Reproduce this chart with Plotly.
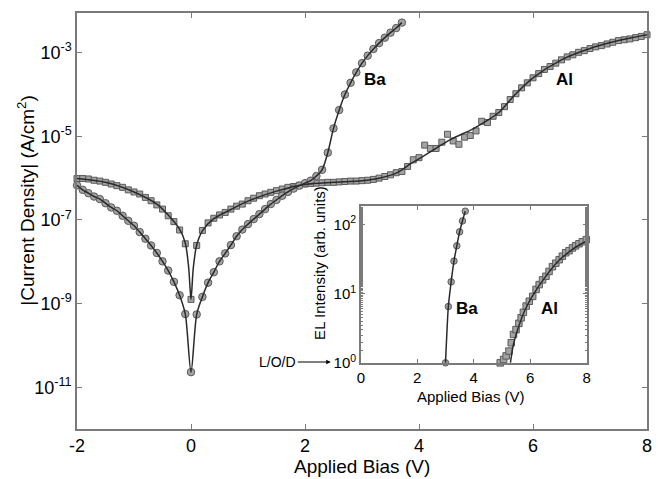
import plotly.graph_objects as go

# ---------------- main panel data: |J| (A/cm^2), stored as log10 exponents
ba_x = [-2.0, -1.9, -1.8, -1.7, -1.6, -1.5, -1.4, -1.3, -1.2, -1.1, -1.0, -0.9, -0.8, -0.7, -0.6,
        -0.5, -0.4, -0.3, -0.2, -0.1, 0.0,
        0.1, 0.2, 0.3, 0.4, 0.5, 0.6, 0.7, 0.8, 0.9, 1.0, 1.1, 1.2, 1.3, 1.4, 1.5, 1.6, 1.7, 1.8,
        1.9, 2.0, 2.1, 2.2, 2.3, 2.4, 2.5, 2.6, 2.7, 2.8, 2.9, 3.0, 3.1, 3.2, 3.3, 3.4, 3.5, 3.6, 3.7]
ba_log_j = [-6.17, -6.28, -6.36, -6.44, -6.50, -6.60, -6.70, -6.78, -6.90, -7.02, -7.14, -7.29,
            -7.45, -7.61, -7.79, -7.99, -8.21, -8.48, -8.80, -9.25, -10.64,
            -9.26, -8.84, -8.50, -8.25, -7.99, -7.80, -7.60, -7.39, -7.23, -7.10, -6.98, -6.86,
            -6.74, -6.62, -6.52, -6.42, -6.33, -6.25, -6.18, -6.12, -6.06, -5.95, -5.80, -5.39,
            -4.81, -4.37, -4.00, -3.72, -3.47, -3.25, -3.07, -2.91, -2.77, -2.64, -2.52, -2.41, -2.28]

al_x = [round(-2.0 + 0.1 * i, 1) for i in range(101)]
al_log_j = [-6.01, -6.01, -6.02, -6.05, -6.07, -6.10, -6.14, -6.18, -6.22, -6.28, -6.33, -6.38,
            -6.46, -6.54, -6.64, -6.74, -6.90, -7.04, -7.24, -7.57, -8.90,
            -7.61, -7.25, -7.07, -6.96, -6.88, -6.82, -6.74, -6.67, -6.62, -6.54, -6.48, -6.42,
            -6.38, -6.34, -6.30, -6.26, -6.22, -6.20, -6.17, -6.14,
            -6.13, -6.12, -6.11, -6.10, -6.10, -6.09, -6.08, -6.07, -6.07, -6.06, -6.05, -6.03,
            -6.00, -5.96, -5.92, -5.87,
            -5.84, -5.72, -5.56, -5.51, -5.21, -5.29, -5.29, -5.14, -4.95, -5.11, -5.19, -5.02,
            -4.98, -4.87, -4.64, -4.67, -4.52,
            -4.43, -4.29, -4.12, -3.98, -3.84, -3.72, -3.60, -3.50, -3.40, -3.33, -3.25, -3.17,
            -3.10, -3.05, -2.99, -2.95, -2.90, -2.86, -2.83, -2.79, -2.75, -2.71, -2.69, -2.67,
            -2.64, -2.61, -2.57]

# fitted (smooth) curve for Al
al_fit_x = [-2.0, -1.5, -1.0, -0.6, -0.4, -0.2, -0.1, -0.04, 0.0, 0.04, 0.1, 0.2, 0.4, 0.7, 1.0,
            1.5, 2.0, 2.5, 3.0, 3.3, 3.6, 3.85, 4.2, 4.55, 4.95, 5.2, 5.4, 5.7, 6.0, 6.5, 7.0, 7.5, 8.0]
al_fit_log_j = [-6.01, -6.10, -6.33, -6.62, -6.88, -7.22, -7.55, -8.15, -8.90, -8.15, -7.60,
                -7.26, -6.97, -6.75, -6.55, -6.31, -6.15, -6.10, -6.06, -6.00, -5.88, -5.66,
                -5.37, -5.08, -4.82, -4.62, -4.43, -3.98, -3.60, -3.17, -2.90, -2.71, -2.57]

main_yticks = [1e-3, 1e-5, 1e-7, 1e-9, 1e-11]
main_yticktext = ["10<sup>-3</sup>", "10<sup>-5</sup>", "10<sup>-7</sup>", "10<sup>-9</sup>",
                  "10<sup>-11</sup>"]
main_xticks = [-2, 0, 2, 4, 6, 8]
main_xticktext = ["-2", "0", "2", "4", "6", "8"]

# ---------------- inset data: EL intensity (arb. units)
ba_el_x = [3.0, 3.1, 3.2, 3.3, 3.4, 3.5, 3.6, 3.7]
ba_el_y = [1.0, 6.5, 14.8, 29.5, 49.0, 78.0, 112.0, 155.0]

al_el_x = [4.94, 5.06, 5.15, 5.25, 5.33, 5.41, 5.50, 5.60, 5.68, 5.76, 5.86, 5.97, 6.09, 6.21,
           6.32, 6.44, 6.56, 6.67, 6.79, 6.91, 7.03, 7.14, 7.26, 7.38, 7.50, 7.61, 7.73, 7.85, 7.99]
al_el_y = [1.0, 1.12, 1.26, 1.48, 1.95, 2.57, 3.02, 3.72, 4.47, 5.37, 6.61, 7.76, 9.12, 11.5,
           13.5, 15.8, 17.8, 20.9, 24.5, 27.5, 30.9, 34.7, 38.9, 41.7, 45.7, 49.0, 52.5, 56.2, 60.3]
al_el_fit_x = [5.30, 5.40, 5.55, 5.80, 6.10, 6.50, 7.00, 7.50, 8.00]
al_el_fit_y = [1.0, 1.78, 2.95, 5.6, 9.5, 16.6, 29.5, 43.7, 57.5]

inset_yticks = [1, 10, 100]
inset_yticktext = ["10<sup>0</sup>", "10<sup>1</sup>", "10<sup>2</sup>"]
inset_xticks = [0, 2, 4, 6, 8]

FONT = "Liberation Sans, Arial, Helvetica, sans-serif"
MK_FILL = "#a3a3a3"
MK_EDGE = "#5a5a5a"
LINE_C = "#2a2a2a"
AX_C = "#7a7a7a"

ba_j = [10 ** v for v in ba_log_j]
al_j = [10 ** v for v in al_log_j]
al_fit_j = [10 ** v for v in al_fit_log_j]

fig = go.Figure()

# main: markers first, lines on top
fig.add_trace(go.Scatter(x=al_x, y=al_j, mode="markers", cliponaxis=False,
                         marker=dict(symbol="square", size=6, color=MK_FILL,
                                     line=dict(color=MK_EDGE, width=1)),
                         xaxis="x", yaxis="y", showlegend=False))
fig.add_trace(go.Scatter(x=ba_x, y=ba_j, mode="markers", cliponaxis=False,
                         marker=dict(symbol="circle", size=7.5, color=MK_FILL,
                                     line=dict(color=MK_EDGE, width=1)),
                         xaxis="x", yaxis="y", showlegend=False))
fig.add_trace(go.Scatter(x=al_fit_x, y=al_fit_j, mode="lines",
                         line=dict(color=LINE_C, width=1.5, shape="spline", smoothing=0.8),
                         xaxis="x", yaxis="y", showlegend=False))
fig.add_trace(go.Scatter(x=ba_x, y=ba_j, mode="lines",
                         line=dict(color=LINE_C, width=1.5, shape="spline", smoothing=0.8),
                         xaxis="x", yaxis="y", showlegend=False))

# inset
fig.add_trace(go.Scatter(x=al_el_x, y=al_el_y, mode="markers", cliponaxis=False,
                         marker=dict(symbol="square", size=6.5, color=MK_FILL,
                                     line=dict(color=MK_EDGE, width=1)),
                         xaxis="x2", yaxis="y2", showlegend=False))
fig.add_trace(go.Scatter(x=ba_el_x, y=ba_el_y, mode="markers", cliponaxis=False,
                         marker=dict(symbol="circle", size=6.5, color=MK_FILL,
                                     line=dict(color=MK_EDGE, width=1)),
                         xaxis="x2", yaxis="y2", showlegend=False))
fig.add_trace(go.Scatter(x=al_el_fit_x, y=al_el_fit_y, mode="lines",
                         line=dict(color=LINE_C, width=1.5, shape="spline", smoothing=0.8),
                         xaxis="x2", yaxis="y2", showlegend=False))
fig.add_trace(go.Scatter(x=ba_el_x, y=ba_el_y, mode="lines",
                         line=dict(color=LINE_C, width=1.5, shape="spline", smoothing=0.6),
                         xaxis="x2", yaxis="y2", showlegend=False))

axis_common = dict(showline=True, linecolor=AX_C, linewidth=1.5, mirror="ticks",
                   ticks="inside", tickcolor=AX_C, showgrid=False, zeroline=False)

fig.update_layout(
    width=663, height=479,
    margin=dict(l=77, r=11, t=13, b=50),
    paper_bgcolor="white", plot_bgcolor="white",
    font=dict(family=FONT, color="black"),
    xaxis=dict(domain=[0, 1], range=[-2, 8], tickvals=main_xticks, ticktext=main_xticktext,
               ticklen=5, tickwidth=1.2, tickfont=dict(size=18), **axis_common),
    yaxis=dict(domain=[0, 1], type="log", range=[-12, -2.05], tickvals=main_yticks,
               ticktext=main_yticktext, ticklen=5, tickwidth=1.2, tickfont=dict(size=18),
               **axis_common),
    xaxis2=dict(domain=[0.498, 0.894], anchor="y2", range=[0, 8], tickvals=inset_xticks,
                ticklen=4, tickwidth=1, tickfont=dict(size=15), **axis_common),
    yaxis2=dict(domain=[0.159, 0.536], anchor="x2", type="log", range=[0, 2.265],
                tickvals=inset_yticks, ticktext=inset_yticktext, ticklen=4, tickwidth=1,
                tickfont=dict(size=15),
                minor=dict(ticks="inside", ticklen=2, tickcolor=AX_C, showgrid=False),
                **axis_common),
)

ann = []
# axis titles
ann.append(dict(text="Applied Bias (V)", xref="paper", yref="paper", x=0.5, y=-0.089,
                xanchor="center", yanchor="middle", showarrow=False, font=dict(size=19)))
ann.append(dict(text="|Current Density| (A/cm<sup>2</sup>)", xref="paper", yref="paper",
                x=-0.0887, y=0.55, xanchor="center", yanchor="middle", textangle=-90,
                showarrow=False, font=dict(size=19)))
ann.append(dict(text="Applied Bias (V)", xref="paper", yref="paper", x=(474 - 77) / 575,
                y=(429 - 396) / 416, xanchor="center", yanchor="middle", showarrow=False,
                font=dict(size=15)))
ann.append(dict(text="EL Intensity (arb. units)", xref="paper", yref="paper",
                x=(321 - 77) / 575, y=(429 - 263) / 416, xanchor="center", yanchor="middle",
                textangle=-90, showarrow=False, font=dict(size=15)))
# curve labels
ann.append(dict(text="<b>Ba</b>", x=3.23, y=-3.64, xref="x", yref="y", showarrow=False,
                font=dict(size=17)))
ann.append(dict(text="<b>Al</b>", x=6.56, y=-3.64, xref="x", yref="y", showarrow=False,
                font=dict(size=17)))
ann.append(dict(text="<b>Ba</b>", x=3.75, y=0.79, xref="x2", yref="y2", showarrow=False,
                font=dict(size=17)))
ann.append(dict(text="<b>Al</b>", x=6.67, y=0.79, xref="x2", yref="y2", showarrow=False,
                font=dict(size=17)))
# L/O/D arrow
ann.append(dict(text="L/O/D", xref="paper", yref="paper", x=(333 - 77) / 575,
                y=(429 - 362) / 416, ax=-53, ay=0, showarrow=True, arrowhead=2,
                arrowsize=0.9, arrowwidth=1, arrowcolor="black", font=dict(size=14)))
fig.update_layout(annotations=ann)

fig.write_html("out.html")
